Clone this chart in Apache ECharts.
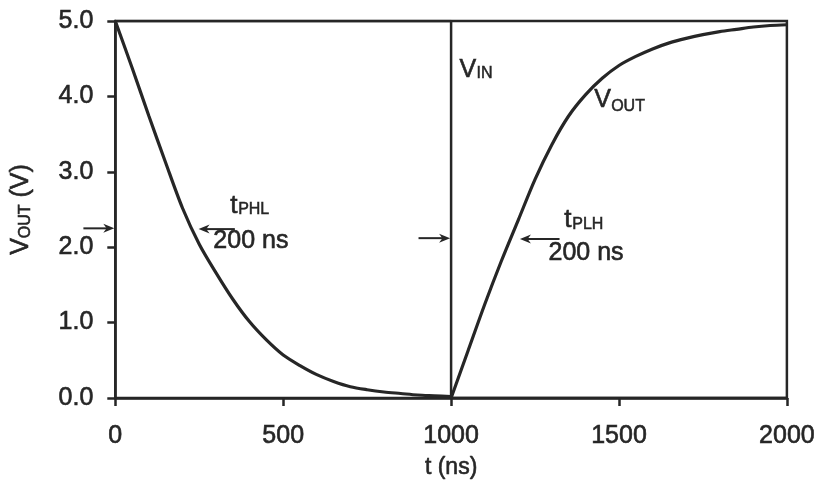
<!DOCTYPE html>
<html>
<head>
<meta charset="utf-8">
<script src="https://cdn.jsdelivr.net/npm/echarts@6/dist/echarts.min.js"></script>
<style>
  html, body { margin: 0; padding: 0; background: #fff; }
  #chart { width: 818px; height: 486px; }
</style>
</head>
<body>
<div id="chart"></div>
<script>
// Inverter transient: output falls while the input is high, rises after it drops.
const fallTimeNs = [0, 50, 100, 150, 200, 250, 300, 350, 400, 450, 500, 550, 600, 650, 700, 750, 800, 850, 900, 950, 1000];
const fallV = [5.0, 4.38, 3.74, 3.12, 2.52, 2.04, 1.66, 1.31, 1.01, 0.77, 0.57, 0.43, 0.31, 0.22, 0.15, 0.11, 0.08, 0.06, 0.04, 0.03, 0.02];
const riseTimeNs = [1000, 1050, 1100, 1150, 1200, 1250, 1300, 1350, 1400, 1450, 1500, 1550, 1600, 1650, 1700, 1750, 1800, 1850, 1900, 1950, 2000];
const riseV = [0.0, 0.62, 1.24, 1.82, 2.36, 2.90, 3.36, 3.74, 4.02, 4.24, 4.41, 4.53, 4.63, 4.71, 4.77, 4.82, 4.86, 4.89, 4.92, 4.94, 4.95];
const vinTimeNs = [0, 1000, 1000, 2000];
const vinV = [5, 5, 0, 0];

const xTicks = [0, 500, 1000, 1500, 2000];
const yTicks = [0, 1, 2, 3, 4, 5];

// Text labels placed in data units: [t (ns), V]
const labels = [
  { main: 't', sub: 'PHL', at: [342, 2.55], mainSize: 26, subDx: 8, subDy: 4 },
  { main: '200 ns', sub: '', at: [292, 2.08], mainSize: 25 },
  { main: 't', sub: 'PLH', at: [1337, 2.36], mainSize: 26, subDx: 8, subDy: 5 },
  { main: '200 ns', sub: '', at: [1290, 1.92], mainSize: 25 },
  { main: 'V', sub: 'IN', at: [1025, 4.35], mainSize: 25, subDx: 17, subDy: 4 },
  { main: 'V', sub: 'OUT', at: [1426, 3.95], mainSize: 25, subDx: 17, subDy: 6 }
];

// Arrows in data units: from tail to head
const arrows = [
  { from: [-95, 2.25], to: [-3, 2.25] },
  { from: [356, 2.24], to: [248, 2.24] },
  { from: [903, 2.12], to: [997, 2.12] },
  { from: [1323, 2.11], to: [1205, 2.11] }
];

const ink = '#262626';
const font = 'Liberation Sans, Arial, Helvetica, sans-serif';
const heavy = { textBorderColor: ink, textBorderWidth: 0.6 };

const chart = echarts.init(document.getElementById('chart'), null, { renderer: 'canvas' });

const axisCommon = {
  type: 'value',
  axisLine: { show: true, lineStyle: { color: ink, width: 2.5 } },
  axisTick: { show: true, inside: false, length: 8, lineStyle: { color: ink, width: 2.5 } },
  splitLine: { show: false },
  axisLabel: Object.assign({ color: ink, fontFamily: font, fontSize: 25 }, heavy)
};

chart.setOption({
  backgroundColor: '#fff',
  animation: false,
  grid: { left: 114, right: 25, top: 21, bottom: 88, show: true, borderColor: ink, borderWidth: 2.5 },
  xAxis: Object.assign({}, axisCommon, {
    min: xTicks[0], max: xTicks[xTicks.length - 1], interval: 500,
    name: 't (ns)', nameLocation: 'middle', nameGap: 58,
    nameTextStyle: Object.assign({ color: ink, fontFamily: font, fontSize: 23 }, heavy),
    axisLabel: Object.assign({}, axisCommon.axisLabel, { margin: 26, formatter: v => String(v) })
  }),
  yAxis: Object.assign({}, axisCommon, {
    min: yTicks[0], max: yTicks[yTicks.length - 1], interval: 1,
    name: 'V{s|OUT} (V)', nameLocation: 'middle', nameGap: 82,
    nameTextStyle: Object.assign({
      color: ink, fontFamily: font, fontSize: 25,
      rich: { s: Object.assign({ fontSize: 16, fontFamily: font, color: ink, padding: [9, 0, 0, 0] }, heavy) }
    }, heavy),
    axisLabel: Object.assign({}, axisCommon.axisLabel, {
      margin: 22,
      formatter: v => v.toFixed(1)
    })
  }),
  series: [
    {
      name: 'VOUT fall', type: 'line', symbol: 'none', smooth: 0.3,
      lineStyle: { color: ink, width: 3.2 },
      data: fallTimeNs.map((t, i) => [t, fallV[i]])
    },
    {
      name: 'VOUT rise', type: 'line', symbol: 'none', smooth: 0.3,
      lineStyle: { color: ink, width: 3.2 },
      data: riseTimeNs.map((t, i) => [t, riseV[i]])
    },
    {
      name: 'VIN', type: 'line', symbol: 'none',
      lineStyle: { color: ink, width: 2.5 },
      data: vinTimeNs.map((t, i) => [t, vinV[i]])
    }
  ]
});

function px(p) { return chart.convertToPixel({ gridIndex: 0 }, p); }

const graphics = [];
labels.forEach(l => {
  const p = px(l.at);
  graphics.push({
    type: 'text', x: p[0], y: p[1],
    style: { text: l.main, fill: ink, stroke: ink, lineWidth: 0.6, font: l.mainSize + 'px ' + font, textAlign: 'left', textVerticalAlign: 'middle' }
  });
  if (l.sub) {
    graphics.push({
      type: 'text', x: p[0] + l.subDx, y: p[1] + l.subDy,
      style: { text: l.sub, fill: ink, stroke: ink, lineWidth: 0.5, font: '16px ' + font, textAlign: 'left', textVerticalAlign: 'middle' }
    });
  }
});
arrows.forEach(a => {
  const s = px(a.from), e = px(a.to);
  const dir = Math.sign(e[0] - s[0]);
  const headLen = 11, headHalf = 4.5;
  graphics.push({
    type: 'line',
    shape: { x1: s[0], y1: s[1], x2: e[0] - dir * headLen * 0.6, y2: e[1] },
    style: { stroke: ink, lineWidth: 2 }
  });
  graphics.push({
    type: 'polygon',
    shape: { points: [[e[0], e[1]], [e[0] - dir * headLen, e[1] - headHalf], [e[0] - dir * headLen * 0.7, e[1]], [e[0] - dir * headLen, e[1] + headHalf]] },
    style: { fill: ink }
  });
});
chart.setOption({ graphic: graphics });
</script>
</body>
</html>
